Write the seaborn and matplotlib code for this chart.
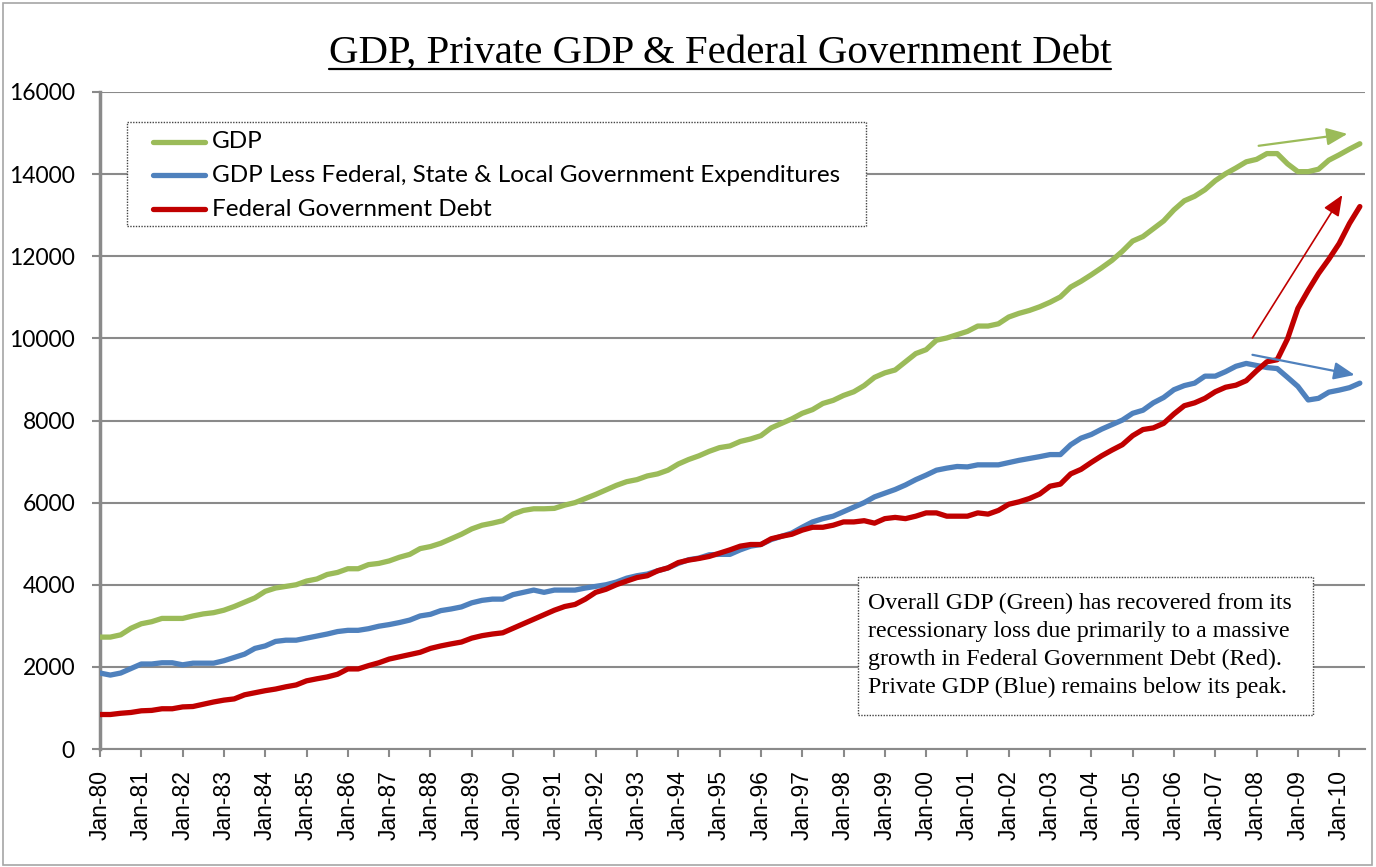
import numpy as np
import pandas as pd
import matplotlib
matplotlib.use("Agg")
import matplotlib.pyplot as plt
import seaborn as sns
from matplotlib.lines import Line2D
from matplotlib.patches import Rectangle

# ---------------- data (quarterly, Jan-80 .. Jul-10) ----------------
gdp = [2725, 2725, 2780, 2940, 3050, 3100, 3180, 3180, 3180, 3240, 3290, 3320,
       3380, 3470, 3575, 3680, 3840, 3920, 3960, 4000, 4090, 4140, 4250, 4300,
       4390, 4390, 4490, 4520, 4580, 4670, 4740, 4880, 4930, 5010, 5120, 5230,
       5360, 5450, 5500, 5560, 5720, 5810, 5850, 5850, 5860, 5940, 6000, 6100,
       6200, 6310, 6420, 6510, 6560, 6650, 6700, 6790, 6940, 7050, 7140, 7250,
       7340, 7380, 7490, 7550, 7630, 7820, 7930, 8040, 8175, 8265, 8415, 8490,
       8610, 8700, 8850, 9050, 9160, 9230, 9430, 9630, 9725, 9955, 10010, 10090,
       10170, 10300, 10300, 10355, 10520, 10610, 10680, 10770, 10880, 11010, 11250, 11390,
       11550, 11720, 11900, 12120, 12370, 12480, 12670, 12860, 13130, 13350, 13460, 13620,
       13840, 14010, 14150, 14300, 14360, 14500, 14500, 14250, 14060, 14060, 14120, 14340,
       14470, 14610, 14740]

private_gdp = [1850, 1800, 1850, 1960, 2070, 2070, 2100, 2100, 2050, 2090, 2090, 2090,
               2150, 2230, 2310, 2450, 2510, 2620, 2650, 2650, 2700, 2750, 2800, 2860,
               2890, 2890, 2930, 2990, 3030, 3080, 3140, 3240, 3280, 3370, 3410, 3460,
               3560, 3620, 3650, 3650, 3760, 3815, 3870, 3815, 3870, 3870, 3870, 3920,
               3960, 4000, 4065, 4160, 4220, 4260, 4340, 4410, 4520, 4610, 4650, 4730,
               4740, 4740, 4850, 4940, 4980, 5100, 5180, 5260, 5400, 5530, 5610, 5670,
               5780, 5890, 6000, 6140, 6230, 6320, 6430, 6560, 6670, 6790, 6840, 6880,
               6870, 6920, 6920, 6920, 6975, 7030, 7075, 7120, 7170, 7170, 7410, 7570,
               7660, 7790, 7900, 8010, 8175, 8250, 8430, 8560, 8750, 8850, 8910, 9080,
               9080, 9190, 9320, 9390, 9340, 9290, 9265, 9050, 8830, 8500, 8540, 8690,
               8740, 8800, 8910]

federal_debt = [840, 840, 870, 890, 930, 940, 980, 980, 1025, 1035, 1090, 1145,
                1190, 1220, 1320, 1370, 1420, 1460, 1515, 1560, 1660, 1710, 1755, 1820,
                1950, 1950, 2030, 2100, 2190, 2245, 2300, 2355, 2450, 2510, 2560, 2605,
                2700, 2760, 2800, 2830, 2940, 3050, 3160, 3270, 3380, 3470, 3520, 3650,
                3815, 3890, 4000, 4090, 4175, 4220, 4340, 4410, 4540, 4600, 4640, 4690,
                4770, 4850, 4940, 4980, 4980, 5120, 5180, 5230, 5330, 5400, 5400, 5450,
                5530, 5530, 5560, 5500, 5610, 5640, 5610, 5670, 5750, 5750, 5670, 5670,
                5670, 5750, 5720, 5810, 5960, 6020, 6100, 6210, 6400, 6450, 6700, 6810,
                6980, 7140, 7280, 7410, 7630, 7780, 7820, 7930, 8160, 8360, 8430, 8540,
                8700, 8810, 8860, 8970, 9210, 9430, 9480, 9990, 10730, 11170, 11580, 11930,
                12310, 12800, 13210]

series_names = ["GDP",
                "GDP Less Federal, State & Local Government Expenditures",
                "Federal Government Debt"]
series_colors = ["#9BBB59", "#4F81BD", "#C00000"]

tick_labels = ["Jan-80", "Jan-81", "Jan-82", "Jan-83", "Jan-84", "Jan-85", "Jan-86",
               "Jan-87", "Jan-88", "Jan-89", "Jan-90", "Jan-91", "Jan-92", "Jan-93",
               "Jan-94", "Jan-95", "Jan-96", "Jan-97", "Jan-98", "Jan-99", "Jan-00",
               "Jan-01", "Jan-02", "Jan-03", "Jan-04", "Jan-05", "Jan-06", "Jan-07",
               "Jan-08", "Jan-09", "Jan-10"]
y_ticks = [0, 2000, 4000, 6000, 8000, 10000, 12000, 14000, 16000]

title = "GDP, Private GDP & Federal Government Debt"
note_lines = ["Overall GDP (Green) has recovered from its",
              "recessionary loss due primarily to a massive",
              "growth in Federal Government Debt (Red).",
              "Private GDP (Blue) remains below its peak."]

# hand-drawn arrows: (start quarter idx, start value) -> (end quarter idx, end value)
arrow_starts = [(112.2, 14690), (111.6, 10010), (111.6, 9600)]
arrow_ends = [(120.8, 14980), (120.3, 13490), (121.5, 9110)]
arrow_colors = ["#9BBB59", "#C00000", "#4F81BD"]
arrow_widths = [1.6, 1.2, 1.6]

# ---------------- build figure ----------------
sns.set_style("white")
plt.rcParams["font.family"] = ["Lato", "DejaVu Sans"]

W, H = 1376, 867
fig = plt.figure(figsize=(W / 100, H / 100), dpi=100)
fig.patch.set_facecolor("white")

def fx(px):
    return px / W

def fy(py):
    return 1 - py / H

fig.add_artist(Rectangle((fx(3), fy(865)), fx(1372) - fx(3), fy(3) - fy(865),
                         transform=fig.transFigure, fill=False,
                         edgecolor="#a6a6a6", linewidth=1.2))

ax = fig.add_axes([fx(100), fy(749), (1365 - 100) / W, (749 - 92) / H])

n = len(gdp)
df = pd.DataFrame({"q": np.arange(n), series_names[0]: gdp,
                   series_names[1]: private_gdp, series_names[2]: federal_debt})
long = df.melt(id_vars="q", var_name="series", value_name="value")
sns.lineplot(data=long, x="q", y="value", hue="series", hue_order=series_names,
             palette=series_colors, linewidth=3.8, ax=ax, legend=False,
             zorder=3)
for ln in ax.get_lines():
    ln.set_solid_joinstyle("round")
    ln.set_solid_capstyle("round")

grid_c = "#8a8a8a"
ax.set_xlim(0, 122.5)
ax.set_ylim(0, 16000)
ax.set_yticks(y_ticks)
ax.set_yticklabels([str(v) for v in y_ticks])
ax.set_xticks(np.arange(0, 4 * len(tick_labels), 4))
ax.set_xticklabels(tick_labels, rotation=90, family="Liberation Sans",
                   fontsize=16.5, color="black")
ax.tick_params(axis="y", labelsize=16.5, length=6, width=1.5, color=grid_c,
               pad=12, direction="out", left=True, labelcolor="black")
ax.tick_params(axis="x", length=6, width=1.5, color=grid_c, pad=9,
               direction="out", bottom=True)
ax.set_xlabel("")
ax.set_ylabel("")
ax.grid(axis="y", color=grid_c, linewidth=1.5, zorder=0)
ax.grid(axis="x", visible=False)
for s in ["top", "right"]:
    ax.spines[s].set_visible(False)
ax.spines["left"].set_color(grid_c)
ax.spines["left"].set_linewidth(2.5)
ax.spines["bottom"].set_color(grid_c)
ax.spines["bottom"].set_linewidth(1.5)
ax.set_axisbelow(True)

# arrows
for (x0, y0), (x1, y1), c, lw in zip(arrow_starts, arrow_ends, arrow_colors, arrow_widths):
    ax.annotate("", xy=(x1, y1), xytext=(x0, y0),
                arrowprops=dict(arrowstyle="-|>,head_length=0.9,head_width=0.38",
                                color=c, lw=lw, shrinkA=0, shrinkB=0,
                                mutation_scale=14), zorder=5)

renderer = fig.canvas.get_renderer()

def fit_size(text, family, target_w, base=20.0):
    t = fig.text(0, 0, text, family=family, fontsize=base)
    w = t.get_window_extent(renderer).width
    t.remove()
    return base * target_w / w

# title with underline
ts = fit_size(title, ["Liberation Serif"], 784)
tt = fig.text(fx(720), fy(63), title, family=["Liberation Serif"], fontsize=ts,
              ha="center", va="baseline", color="black")
bb = tt.get_window_extent(renderer)
fig.add_artist(Line2D([fx(bb.x0), fx(bb.x1)], [fy(69), fy(69)],
                      transform=fig.transFigure, color="black", linewidth=1.6))

# legend (custom frame, handles from the series colours)
fig.add_artist(Rectangle((fx(127), fy(226)), fx(866) - fx(127), fy(122) - fy(226),
                         transform=fig.transFigure, facecolor="white",
                         edgecolor="#444444", linewidth=1.0, linestyle=(0, (1, 1)),
                         zorder=6))
ls = fit_size(series_names[1], ["Lato"], 628)
for i, (name, c) in enumerate(zip(series_names, series_colors)):
    yy = [142, 175, 209][i]
    fig.add_artist(Line2D([fx(153), fx(205)], [fy(yy), fy(yy)],
                          transform=fig.transFigure, color=c, linewidth=3.8,
                          solid_capstyle="round", zorder=7))
    fig.text(fx(212), fy(yy), name, family=["Lato"], fontsize=ls,
             ha="left", va="center", color="black", zorder=7)

# note box
fig.add_artist(Rectangle((fx(858), fy(715)), fx(1313) - fx(858), fy(577) - fy(715),
                         transform=fig.transFigure, facecolor="white",
                         edgecolor="#444444", linewidth=1.0, linestyle=(0, (1, 1)),
                         zorder=6))
ns = fit_size(note_lines[1], ["Liberation Serif"], 422)
for i, line in enumerate(note_lines):
    fig.text(fx(868), fy(603 + 28 * i), line, family=["Liberation Serif"],
             fontsize=ns, ha="left", va="center", color="black", zorder=7)

fig.savefig("out.png", dpi=100)
